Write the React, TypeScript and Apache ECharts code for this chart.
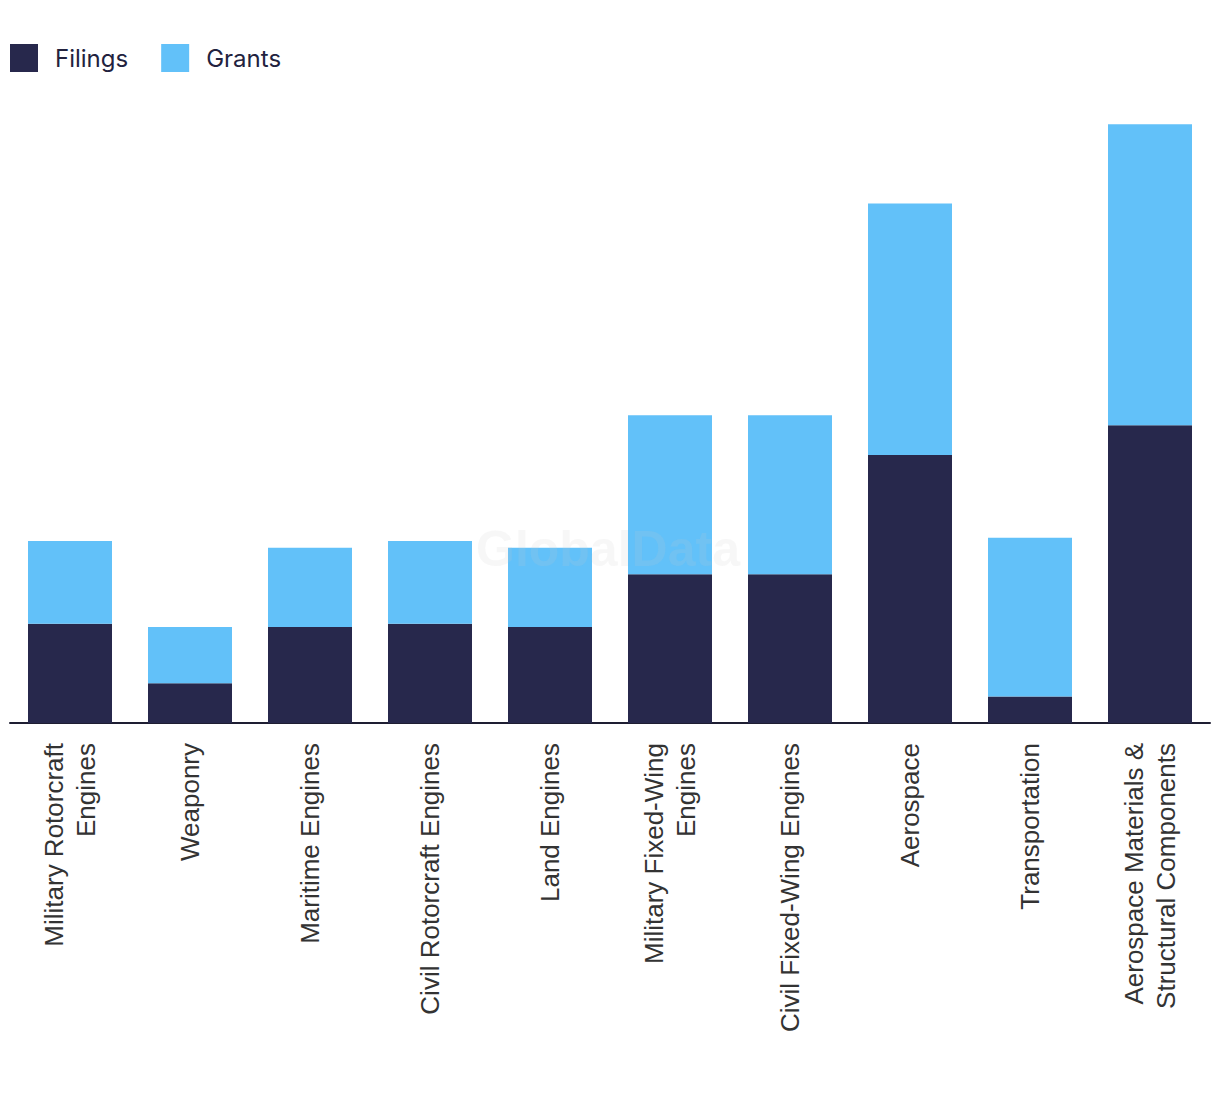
import React, { useEffect, useRef } from "react";
import * as echarts from "echarts";

const categories = [
  "Military Rotorcraft\nEngines",
  "Weaponry",
  "Maritime Engines",
  "Civil Rotorcraft Engines",
  "Land Engines",
  "Military Fixed-Wing\nEngines",
  "Civil Fixed-Wing Engines",
  "Aerospace",
  "Transportation",
  "Aerospace Materials &\nStructural Components",
];
const filings = [30, 12, 29, 30, 29, 45, 45, 81, 8, 90];
const grants = [25, 17, 24, 25, 24, 48, 48, 76, 48, 91];

export default function App() {
  const ref = useRef<HTMLDivElement>(null);
  useEffect(() => {
    if (!ref.current) return;
    const chart = echarts.init(ref.current, null, { renderer: "svg" });
    chart.setOption({
      animation: false,
      backgroundColor: "#ffffff",
      legend: {
        left: -3,
        top: 31,
        itemWidth: 28,
        itemHeight: 28,
        itemGap: 33,
        icon: "rect",
        textStyle: {
          fontFamily: "Inter",
          fontSize: 24,
          color: "#22223e",
          padding: [0, 0, 0, 12],
        },
        data: ["Filings", "Grants"],
      },
      graphic: [
        {
          type: "text",
          left: 468,
          top: 516,
          z: 100,
          style: {
            text: "GlobalData",
            font: "bold 50px 'Liberation Sans'",
            fill: "rgba(200,200,200,0.15)",
          },
        },
      ],
      grid: { left: 2, right: 2, top: 55, bottom: 363 },
      xAxis: {
        type: "category",
        data: categories,
        axisLine: { lineStyle: { color: "#1e1e32", width: 2 } },
        axisTick: { show: false },
        axisLabel: {
          rotate: 90,
          interval: 0,
          margin: 20,
          fontFamily: "Liberation Sans",
          fontSize: 26,
          lineHeight: 32,
          color: "#333333",
        },
      },
      yAxis: {
        type: "value",
        min: 0,
        max: 199.5,
        show: false,
        splitLine: { show: false },
      },
      series: [
        {
          name: "Filings",
          type: "bar",
          stack: "total",
          barWidth: "70%",
          itemStyle: { color: "#27284c" },
          data: filings,
        },
        {
          name: "Grants",
          type: "bar",
          stack: "total",
          barWidth: "70%",
          itemStyle: { color: "#62c1f9" },
          data: grants,
        },
      ],
    });
    return () => chart.dispose();
  }, []);
  return <div ref={ref} style={{ width: 1204, height: 1078 }} />;
}
